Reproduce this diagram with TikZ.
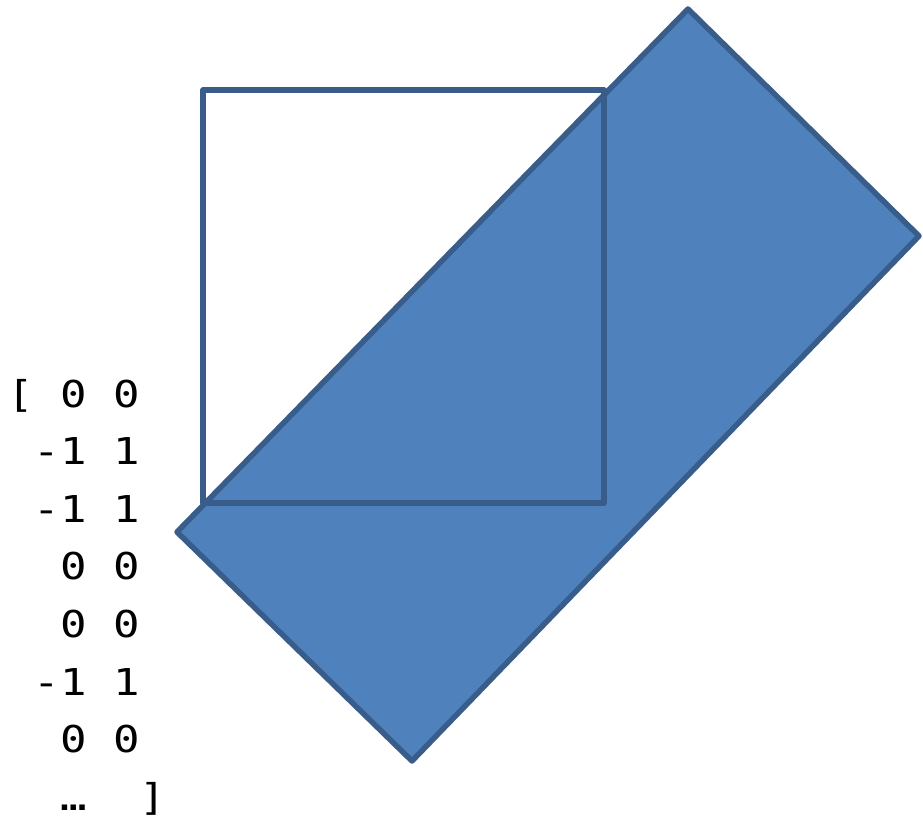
\documentclass[tikz,border=0pt]{standalone}
\usepackage{fontspec}
\newfontfamily\matfont[FakeStretch=1.19]{DejaVu Sans Mono}
\usetikzlibrary{positioning}
\definecolor{shapefill}{HTML}{4F81BD}
\definecolor{shapeline}{HTML}{385D8A}
\tikzset{
  outline/.style={draw=shapeline, line width=5.5pt, line join=round},
  matrow/.style={anchor=base west, inner sep=0pt, font=\matfont\fontsize{37}{44}\selectfont},
}

\begin{document}
\begin{tikzpicture}[x=1pt, y=-1pt]
      \useasboundingbox (0,0) rectangle (923,821);
      % rotated rectangle
      \coordinate (T) at (688,9);
      \coordinate (R) at (919,236);
      \coordinate (B) at (412,761);
      \coordinate (L) at (177,532);
      \draw[outline, fill=shapefill] (T) -- (R) -- (B) -- (L) -- cycle;
      % square on top
      \coordinate (SW) at (203,503);
      \coordinate (NE) at (604,90);
      \draw[outline] (SW) rectangle (NE);

      % matrix text
      \node[matrow] (r1) at (7,407) {[~0~0};
      \node[matrow] (r2) at (7,464.6) {~-1~1};
      \node[matrow] (r3) at (7,522.2) {~-1~1};
      \node[matrow] (r4) at (7,579.8) {~~0~0};
      \node[matrow] (r5) at (7,637.4) {~~0~0};
      \node[matrow] (r6) at (7,695) {~-1~1};
      \node[matrow] (r7) at (7,752.6) {~~0~0};
      \node[matrow] (r8) at (7,810.2) {~~…~~]};
\end{tikzpicture}
\end{document}
